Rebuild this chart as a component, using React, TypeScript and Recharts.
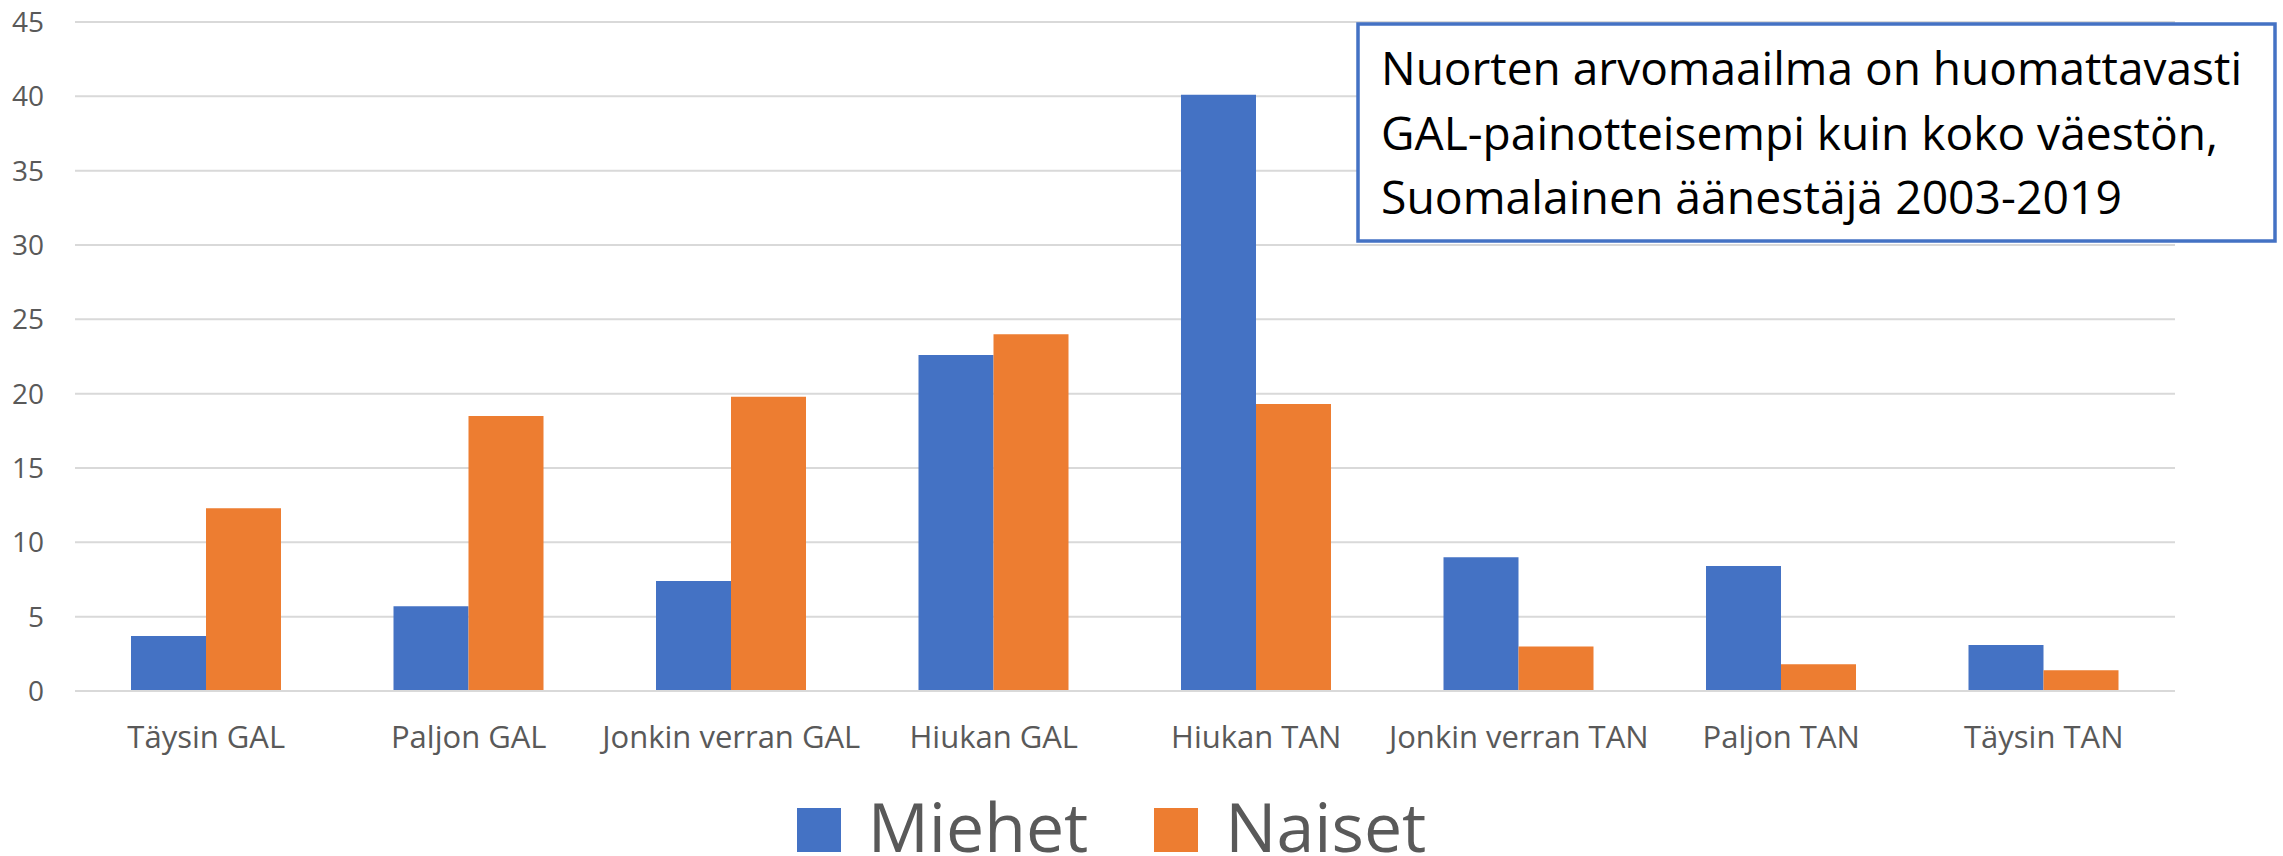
import React from 'react';
import { BarChart, Bar, XAxis, YAxis, CartesianGrid, Legend } from 'recharts';

const categories = ['Täysin GAL', 'Paljon GAL', 'Jonkin verran GAL', 'Hiukan GAL', 'Hiukan TAN', 'Jonkin verran TAN', 'Paljon TAN', 'Täysin TAN'];
const miehet = [3.7, 5.7, 7.4, 22.6, 40.1, 9.0, 8.4, 3.1];
const naiset = [12.3, 18.5, 19.8, 24.0, 19.3, 3.0, 1.8, 1.4];
const yTicks = [0, 5, 10, 15, 20, 25, 30, 35, 40, 45];
const seriesNames = ['Miehet', 'Naiset'];
const seriesColors = ['#4472C4', '#ED7D31'];
const noteLines = [
  'Nuorten arvomaailma on huomattavasti',
  'GAL-painotteisempi kuin koko väestön,',
  'Suomalainen äänestäjä 2003-2019',
];

const data = categories.map((c, i) => ({ cat: c, Miehet: miehet[i], Naiset: naiset[i] }));

const FONT = '"Open Sans", sans-serif';

const LegendContent = () => (
  <div
    style={{
      width: 2283,
      height: 85,
      paddingBottom: 4,
      paddingRight: 60,
      boxSizing: 'border-box',
      display: 'flex',
      justifyContent: 'center',
      alignItems: 'flex-end',
      fontFamily: FONT,
    }}
  >
    {seriesNames.map((n, i) => (
      <div key={n} style={{ display: 'flex', alignItems: 'flex-end', marginLeft: i === 0 ? 0 : 66 }}>
        <div style={{ width: 44, height: 44, background: seriesColors[i], marginRight: 27 }} />
        <span style={{ display: 'block', fontSize: 68, lineHeight: '52px', height: 52, color: '#595959' }}>{n}</span>
      </div>
    ))}
  </div>
);

export default function App() {
  return (
    <div style={{ position: 'absolute', left: 0, top: 0, width: 2283, height: 856, background: '#fff', overflow: 'hidden' }}>
      <BarChart
        width={2283}
        height={856}
        data={data}
        margin={{ top: 22, right: 108, left: 0, bottom: 0 }}
        barGap={0}
        barSize={75}
      >
        <CartesianGrid vertical={false} stroke="#D9D9D9" strokeWidth={2} />
        <XAxis
          dataKey="cat"
          interval={0}
          tickLine={false}
          axisLine={{ stroke: '#D9D9D9', strokeWidth: 2 }}
          height={80}
          tickMargin={29}
          tick={{ fill: '#595959', fontSize: 31, fontFamily: FONT }}
        />
        <YAxis
          domain={[0, 45]}
          ticks={yTicks}
          width={75}
          tickLine={false}
          axisLine={false}
          tickMargin={25}
          tick={{ fill: '#595959', fontSize: 28, fontFamily: FONT }}
        />
        <Legend verticalAlign="bottom" height={85} wrapperStyle={{ left: 0, width: 2283 }} content={<LegendContent />} />
        {seriesNames.map((n, i) => (
          <Bar key={n} dataKey={n} fill={seriesColors[i]} isAnimationActive={false} />
        ))}
      </BarChart>
      <svg style={{ position: 'absolute', left: 0, top: 0 }} width={2283} height={856}>
        <rect x={1358} y={24} width={917} height={217} fill="#fff" stroke="#4472C4" strokeWidth={3.5} />
        {noteLines.map((t, i) => (
          <text
            key={i}
            x={1381}
            y={85 + i * 64.5}
            fontFamily={FONT}
            fontSize={46}
            fill="#000"
            textLength={[861, 837, 741][i]}
            lengthAdjust="spacingAndGlyphs"
          >
            {t}
          </text>
        ))}
      </svg>
    </div>
  );
}
